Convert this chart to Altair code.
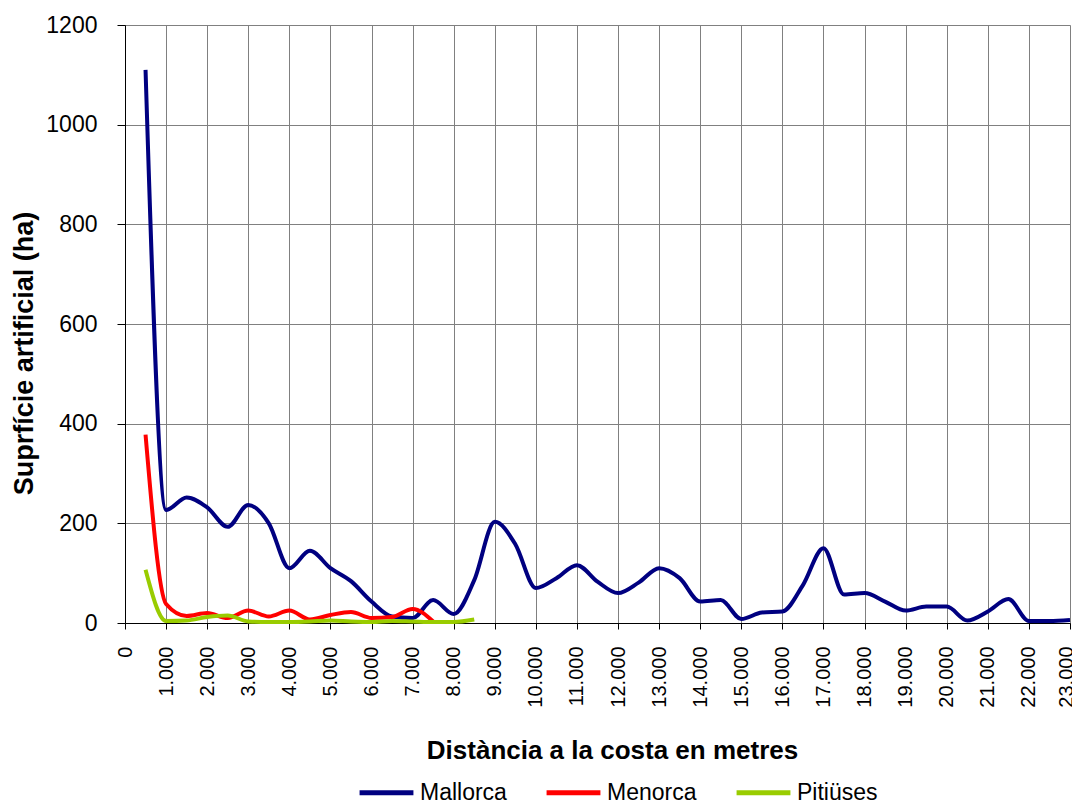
import altair as alt
import pandas as pd

# Distance from the coast (m)
dist_mallorca = list(range(500, 23001, 500))
mallorca = [1110, 227, 252, 232, 193, 237, 200, 110, 145, 110, 84, 43, 13, 10, 46, 18,
            86, 203, 158, 70, 90, 116, 83, 60, 81, 110, 90, 43, 46, 8, 21, 23,
            76, 150, 57, 60, 43, 25, 33, 33, 5, 23, 48, 4, 4, 6]
dist_menorca = list(range(500, 7501, 500))
menorca = [378, 38, 14, 20, 10, 25, 13, 25, 7, 16, 22, 10, 12, 28, 3]
dist_pitiuses = list(range(500, 8501, 500))
pitiuses = [107, 4, 5, 12, 15, 3, 2, 2, 3, 5, 3, 2, 4, 3, 2, 2, 7]

series_names = ["Mallorca", "Menorca", "Pitiüses"]
series_colors = ["#000080", "#FF0000", "#99CC00"]
x_ticks = list(range(0, 23001, 1000))
y_ticks = [0, 200, 400, 600, 800, 1000, 1200]

rows = []
for name, xs, ys in [("Mallorca", dist_mallorca, mallorca),
                     ("Menorca", dist_menorca, menorca),
                     ("Pitiüses", dist_pitiuses, pitiuses)]:
    for xv, yv in zip(xs, ys):
        rows.append({"dist": xv, "value": yv, "serie": name})
df = pd.DataFrame(rows)

FONT = "Liberation Sans"

chart = alt.Chart(df).mark_line(strokeWidth=4, interpolate="monotone").encode(
    x=alt.X("dist:Q",
            scale=alt.Scale(domain=[0, 23000], nice=False, zero=False),
            axis=alt.Axis(values=x_ticks,
                          title="Distància a la costa en metres",
                          labelExpr="replace(format(datum.value, ','), ',', '.')",
                          labelAngle=270, labelAlign="right", labelBaseline="middle",
                          labelOffset={"condition": {"test": "datum.value == 23000", "value": -4}, "value": 0},
                          labelPadding=17, labelFontSize=20, labelFont=FONT, labelColor="#000",
                          tickSize=6, tickColor="#000", domainColor="#000",
                          grid=True, gridColor="#808080", gridWidth=1,
                          titleFont=FONT, titleFontSize=26, titleFontWeight="bold",
                          titleColor="#000", titleX=487, titleY=127,
                          titleAlign="center", titleBaseline="middle")),
    y=alt.Y("value:Q",
            scale=alt.Scale(domain=[0, 1200], nice=False),
            axis=alt.Axis(values=y_ticks, format="d",
                          title="Suprfície artificial (ha)",
                          labelFontSize=23, labelFont=FONT, labelColor="#000",
                          labelPadding=20, tickSize=8, tickColor="#000", domainColor="#000",
                          grid=True, gridColor="#808080", gridWidth=1,
                          titleFont=FONT, titleFontSize=27, titleFontWeight="bold",
                          titleColor="#000", titleX=-101, titleY=328, titleAngle=270,
                          titleAlign="center", titleBaseline="middle")),
    color=alt.Color("serie:N",
                    scale=alt.Scale(domain=series_names, range=series_colors),
                    legend=alt.Legend(title=None, orient="none", direction="horizontal",
                                      legendX=232, legendY=738, columns=3,
                                      symbolType="stroke", symbolStrokeWidth=5,
                                      symbolSize=2900, labelFont=FONT, labelFontSize=23,
                                      labelColor="#000", columnPadding=29, labelOffset=4)),
).properties(
    width=945, height=598,
    autosize=alt.AutoSizeParams(type="none"),
    padding={"left": 117, "top": 17, "right": 2, "bottom": 180},
).configure_view(strokeWidth=0).configure(background="white")

chart.save("out.html", embed_options={"renderer": "svg", "actions": False})
